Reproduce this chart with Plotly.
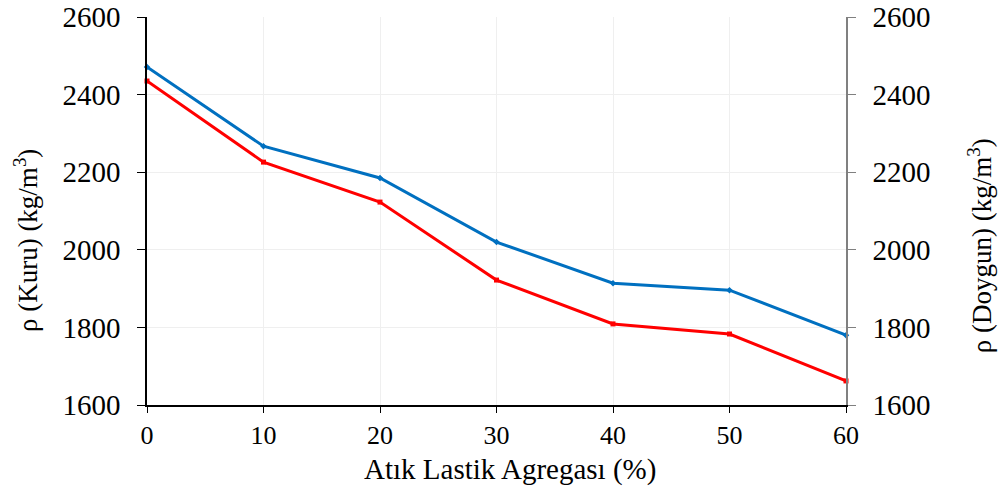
import plotly.graph_objects as go

x_vals = [0, 10, 20, 30, 40, 50, 60]
kuru = [2471, 2267, 2185, 2020, 1914, 1896, 1780]
doygun = [2435, 2226, 2123, 1922, 1809, 1783, 1662]

FONT = "'Liberation Serif', 'Times New Roman', Times, serif"

fig = go.Figure()
fig.add_trace(go.Scatter(x=x_vals, y=kuru, mode="lines+markers", name="Kuru",
                         line=dict(color="#0070C0", width=3),
                         marker=dict(symbol="diamond", size=5, color="#0070C0"),
                         yaxis="y", cliponaxis=False))
fig.add_trace(go.Scatter(x=x_vals, y=doygun, mode="lines+markers", name="Doygun",
                         line=dict(color="#FF0000", width=3),
                         marker=dict(symbol="square", size=5, color="#FF0000"),
                         yaxis="y2", cliponaxis=False))

fig.update_layout(
    width=998, height=493,
    margin=dict(l=147, r=152, t=17, b=88, autoexpand=False),
    paper_bgcolor="white", plot_bgcolor="white",
    showlegend=False,
    font=dict(family=FONT, size=22, color="black"),
    xaxis=dict(range=[0, 60], tickvals=x_vals, showgrid=True, gridcolor="#efefef",
               showline=True, linecolor="black", linewidth=1.5,
               ticks="outside", ticklen=6, tickcolor="black",
               tickfont=dict(family=FONT, size=26),
               ticklabelstandoff=0, zeroline=False, automargin=False),
    yaxis=dict(range=[1600, 2600], dtick=200, showgrid=True, gridcolor="#efefef",
               showline=True, linecolor="black", linewidth=1.5,
               ticks="outside", ticklen=8, tickcolor="black", zeroline=False,
               tickfont=dict(family=FONT, size=29),
               ticklabelstandoff=11, automargin=False),
    yaxis2=dict(range=[1600, 2600], dtick=200, overlaying="y", side="right",
                showgrid=False, showline=True, linecolor="#808080", linewidth=1.5,
                ticks="outside", ticklen=8, tickcolor="#808080", zeroline=False,
                tickfont=dict(family=FONT, size=29),
                ticklabelstandoff=11, automargin=False),
    annotations=[
        dict(text="Atık Lastik Agregası (%)", xref="paper", yref="paper",
             x=0.519, y=-0.1675, xanchor="center", yanchor="middle",
             showarrow=False, font=dict(family=FONT, size=29)),
        dict(text="ρ (Kuru) (kg/m<sup>3</sup>)", xref="paper", yref="paper",
             x=-0.173, y=0.4227, xanchor="center", yanchor="middle", textangle=-90,
             showarrow=False, font=dict(family=FONT, size=27)),
        dict(text="ρ (Doygun) (kg/m<sup>3</sup>)", xref="paper", yref="paper",
             x=1.1917, y=0.412, xanchor="center", yanchor="middle", textangle=-90,
             showarrow=False, font=dict(family=FONT, size=27)),
    ],
)

fig.write_html("out.html")
